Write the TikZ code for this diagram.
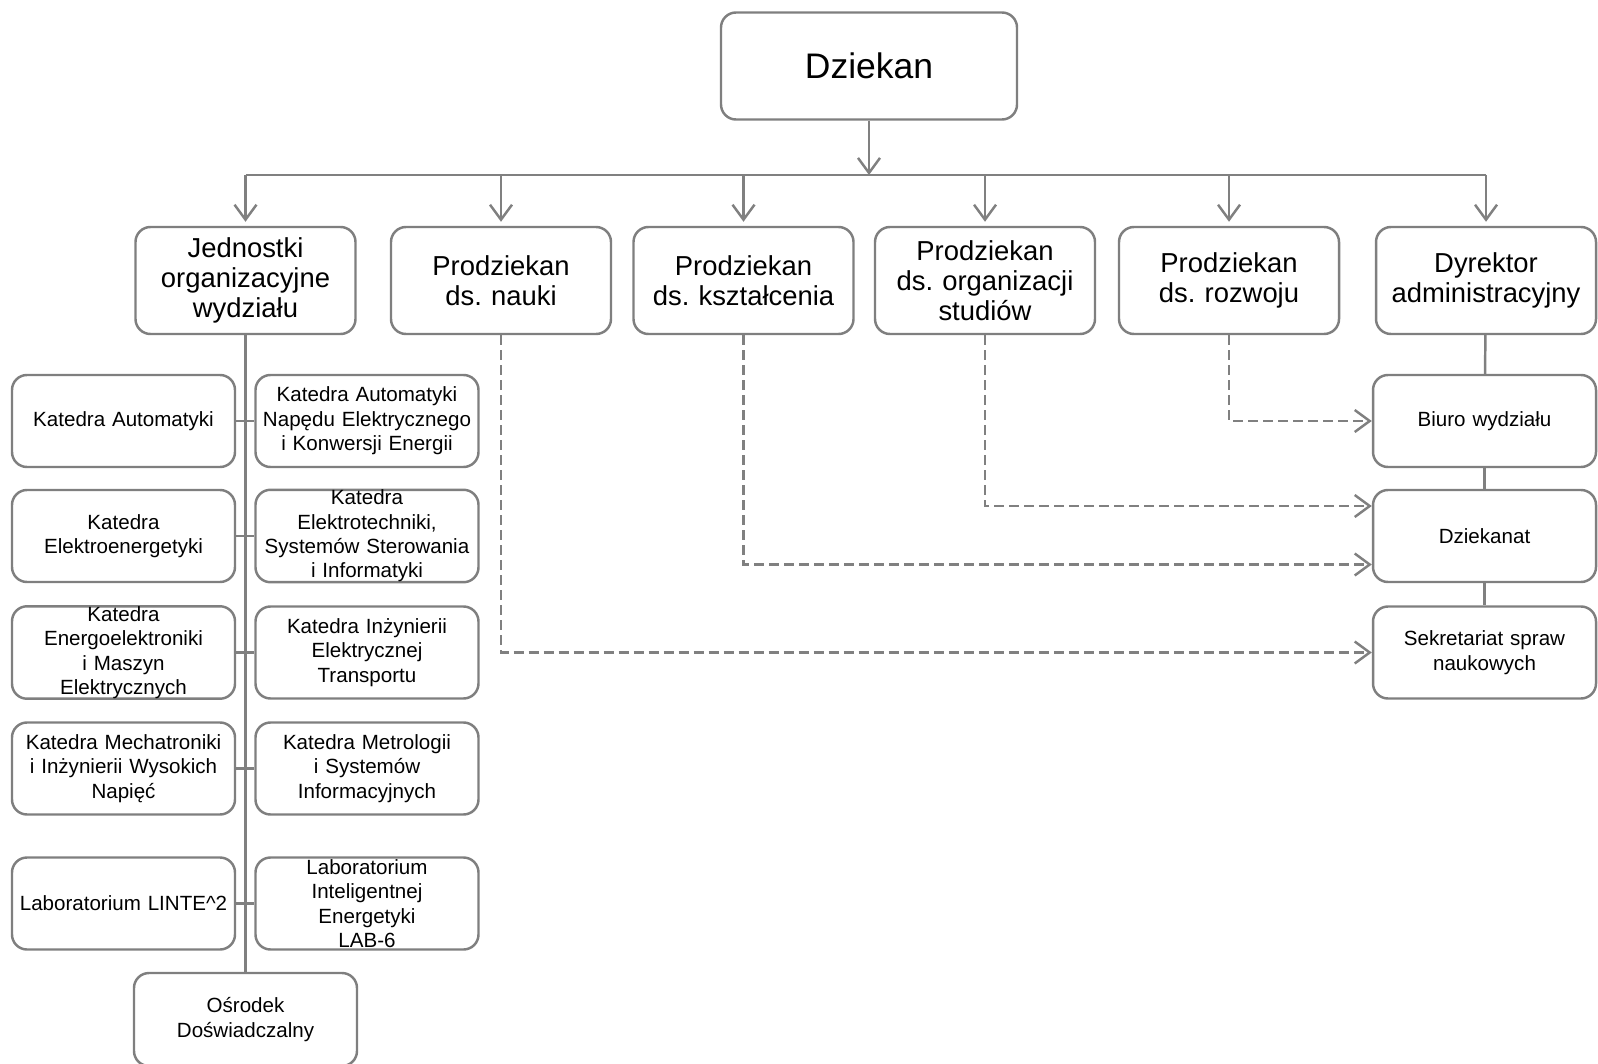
\documentclass[tikz,border=0pt]{standalone}
\usepackage{fontspec}
\setmainfont{Liberation Sans}
\usetikzlibrary{positioning, arrows.meta}
\definecolor{boxgray}{RGB}{127,127,127}
\definecolor{linegray}{RGB}{128,128,128}
\frenchspacing

\begin{document}
\begin{tikzpicture}[node distance=2.3cm]

    % Define styles
    \tikzset{
        box/.style = {rectangle, rounded corners=0.3cm, draw=boxgray, line width=1.4pt, fill=white, align=center},
        dean/.style = {box, minimum width=5.92cm, minimum height=2.14cm, font=\fontsize{20.2}{24}\selectfont},
        head/.style = {box, minimum width=4.4cm, minimum height=2.14cm, text width=4.34cm, inner xsep=0.03cm, font=\fontsize{15.6}{17}\selectfont},
        unit/.style = {box, minimum width=4.46cm, minimum height=1.84cm, text width=4.4cm, inner xsep=0.03cm, inner ysep=0pt, font=\fontsize{11.7}{13.9}\selectfont},
        conn/.style = {draw=linegray, line width=1.4pt},
        arrow/.style = {conn, -{Straight Barb[length=0.3cm, width=0.44cm]}},
        darrow/.style = {arrow, dash pattern=on 0.2cm off 0.1cm}
    }
    \useasboundingbox (0,0) rectangle (31.96,-21.28);

    % Nodes
    \node (dean) [dean] at (17.38,-1.32) {Dziekan};
    \node (bus) [coordinate, below of=dean, node distance=2.18cm] {};
    \node (jedn) [head, below of=dean, node distance=4.29cm, xshift=-12.47cm] {Jednostki\\organizacyjne\\wydziału};
    \node (nauki) [head, right of=jedn, node distance=5.11cm] {Prodziekan\\ds. nauki};
    \node (ksz) [head, right of=nauki, node distance=4.85cm] {Prodziekan\\ds. kształcenia};
    \node (org) [head, right of=ksz, node distance=4.83cm] {Prodziekan\\ds. organizacji\\studiów};
    \node (roz) [head, right of=org, node distance=4.88cm] {Prodziekan\\ds. rozwoju};
    \node (dyr) [head, right of=roz, node distance=5.14cm] {Dyrektor\\administracyjny};

    % Faculty units
    \node (ka) [unit, below of=jedn, node distance=2.81cm, xshift=-2.44cm] {Katedra Automatyki};
    \node (kanek) [unit, right of=ka, node distance=4.87cm] {Katedra Automatyki\\Napędu Elektrycznego\\i Konwersji Energii};
    \node (ke) [unit, below of=ka] {Katedra\\Elektroenergetyki};
    \node (kesi) [unit, right of=ke, node distance=4.87cm] {Katedra\\Elektrotechniki,\\Systemów Sterowania\\i Informatyki};
    \node (kem) [unit, below of=ke, node distance=2.33cm] {Katedra\\Energoelektroniki\\i Maszyn\\Elektrycznych};
    \node (kiet) [unit, right of=kem, node distance=4.87cm] {Katedra Inżynierii\\Elektrycznej\\Transportu};
    \node (kmi) [unit, below of=kem, node distance=2.32cm] {Katedra Mechatroniki\\i Inżynierii Wysokich\\Napięć};
    \node (kmsi) [unit, right of=kmi, node distance=4.87cm] {Katedra Metrologii\\i Systemów\\Informacyjnych};
    \node (linte) [unit, below of=kmi, node distance=2.70cm] {Laboratorium LINTE\textasciicircum 2};
    \node (lab) [unit, right of=linte, node distance=4.87cm] {Laboratorium\\Inteligentnej\\Energetyki\\LAB-6};
    \node (osr) [unit, minimum width=4.4cm, minimum height=1.86cm, below of=jedn, node distance=14.78cm] {Ośrodek\\Doświadczalny};

    % Administration
    \node (biuro) [unit, minimum width=4.42cm, below of=dyr, node distance=2.81cm, xshift=-0.03cm] {Biuro wydziału};
    \node (dziek) [unit, minimum width=4.42cm, below of=biuro] {Dziekanat};
    \node (sekr) [unit, minimum width=4.42cm, below of=dziek, node distance=2.33cm] {Sekretariat spraw\\naukowych};

    % Arrows
    \draw [arrow] (dean) -- (bus);
    \draw [conn] (jedn |- bus) -- (dyr |- bus);
    \foreach \n in {jedn, nauki, ksz, org, roz, dyr}
        \draw [arrow] (\n |- bus) -- ([yshift=0.08cm]\n.north);

    \draw [conn] (jedn) -- (osr);
    \foreach \l/\r in {ka/kanek, ke/kesi, kem/kiet, kmi/kmsi, linte/lab}
        \draw [conn] (\l) -- (\r);

    \draw [conn] (dyr) -- (biuro);
    \draw [conn] (biuro) -- (dziek);
    \draw [conn] (dziek) -- (sekr);

    \draw [darrow] (roz) |- (biuro);
    \draw [darrow] (org) |- ([yshift=0.6cm]dziek.west);
    \draw [darrow] (ksz) |- ([yshift=-0.57cm]dziek.west);
    \draw [darrow] (nauki) |- (sekr);
\end{tikzpicture}
\end{document}
